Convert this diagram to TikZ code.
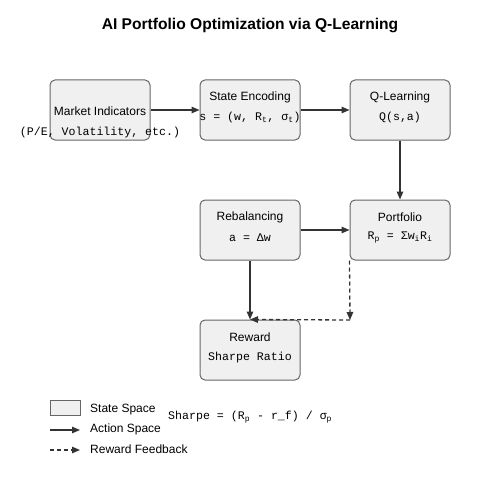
\documentclass[tikz,border=0pt]{standalone}
\usepackage{fontspec}
\setmainfont{Liberation Sans}
\setmonofont{Liberation Mono}
\usetikzlibrary{arrows.meta}
\definecolor{boxfill}{HTML}{F0F0F0}
\definecolor{boxline}{HTML}{666666}
\definecolor{edgecol}{HTML}{333333}
\tikzset{
  StateBox/.style={draw=boxline, fill=boxfill, line width=1pt, rounded corners=5pt,
    minimum width=100pt, minimum height=60pt, inner sep=0pt},
  ActEdge/.style={draw=edgecol, line width=1.3pt, -{Triangle[length=8pt,width=6.5pt]}},
  FeedEdge/.style={ActEdge, dash pattern=on 4pt off 3pt},
  Head/.style={font=\fontsize{12}{14}\selectfont, inner sep=0pt, yshift=-1.5pt},
  Mono/.style={font=\fontsize{11.6}{14}\ttfamily, inner sep=0pt, yshift=-1.5pt}
}
\begin{document}
\begin{tikzpicture}[x=1pt,y=-1pt]
  \useasboundingbox (0,0) rectangle (500,500);
  % title
  \node[font=\fontsize{15.6}{19}\bfseries\selectfont] (title) at (250,26) {AI Portfolio Optimization via Q-Learning};
  % boxes
  \node[StateBox] (market) at (100,110) {};
  \node[StateBox] (encode) at (250,110) {};
  \node[StateBox] (qlearn) at (400,110) {};
  \node[StateBox] (rebal) at (250,230) {};
  \node[StateBox] (portf) at (400,230) {};
  \node[StateBox] (reward) at (250,350) {};
  % edges
  \draw[ActEdge] (market) -- (encode);
  \draw[ActEdge] (encode) -- (qlearn);
  \draw[ActEdge] (qlearn) -- (portf);
  \draw[ActEdge] (rebal) -- (portf);
  \draw[ActEdge] (rebal) -- (reward);
  \coordinate (corner) at (350,320);
  \draw[FeedEdge] (portf.south west) -- (corner);
  \draw[FeedEdge] (corner) -- (reward.north);
  % labels
  \node[Head] (marketT) at (100,110) {Market Indicators};
  \node[Mono] (marketS) at (100,131) {(P/E, Volatility, etc.)};
  \node[Head] (encodeT) at (250,96) {State Encoding};
  \node[Mono] (encodeS) at (250,116) {s = (w, R\textsubscript{t}, σ\textsubscript{t})};
  \node[Head] (qlearnT) at (400,96) {Q-Learning};
  \node[Mono] (qlearnS) at (400,116) {Q(s,a)};
  \node[Head] (rebalT) at (250,216) {Rebalancing};
  \node[Mono] (rebalS) at (250,236) {a = Δw};
  \node[Head] (portfT) at (400,216) {Portfolio};
  \node[Mono] (portfS) at (400,236) {R\textsubscript{p} = Σw\textsubscript{i}R\textsubscript{i}};
  \node[Head] (rewardT) at (250,336) {Reward};
  \node[Mono] (rewardS) at (250,356) {Sharpe Ratio};
  % legend
  \node[StateBox, minimum width=30pt, minimum height=15pt, rounded corners=0pt] (keyState) at (65,407.5) {};
  \node[Head, anchor=west] (keyStateT) at (90,408) {State Space};
  \coordinate (keyActA) at (50,430);
  \coordinate (keyActB) at (80,430);
  \draw[ActEdge, line width=1.2pt] (keyActA) -- (keyActB);
  \node[Head, anchor=west] (keyActT) at (90,428) {Action Space};
  \coordinate (keyFeedA) at (50,450);
  \coordinate (keyFeedB) at (80,450);
  \draw[FeedEdge, line width=1.2pt] (keyFeedA) -- (keyFeedB);
  \node[Head, anchor=west] (keyFeedT) at (90,448) {Reward Feedback};
  \node[Mono, anchor=west] (sharpe) at (168,416) {Sharpe = (R\textsubscript{p} - r\_f) / σ\textsubscript{p}};
\end{tikzpicture}
\end{document}
